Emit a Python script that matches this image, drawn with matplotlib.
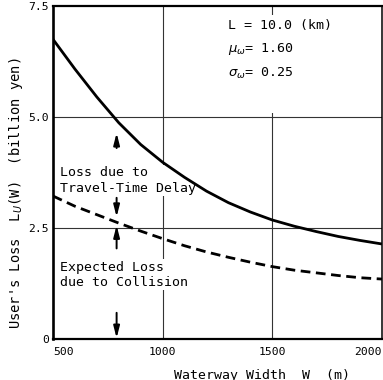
import matplotlib
matplotlib.use("Agg")
import matplotlib.pyplot as plt
from matplotlib.patches import Rectangle

# ---- data ----
width_m = [500, 600, 700, 800, 900, 1000, 1100, 1200, 1300, 1400, 1500,
           1600, 1700, 1800, 1900, 2000]
total_loss = [6.75, 6.08, 5.45, 4.87, 4.38, 3.98, 3.64, 3.33, 3.07, 2.86, 2.68,
              2.54, 2.42, 2.31, 2.22, 2.14]
collision_loss = [3.22, 2.99, 2.80, 2.61, 2.43, 2.26, 2.10, 1.96, 1.84, 1.73, 1.63,
                  1.55, 1.49, 1.43, 1.38, 1.35]

x_ticks = [500, 1000, 1500, 2000]
x_tick_labels = ["500", "1000", "1500", "2000"]
y_ticks = [0, 2.5, 5.0, 7.5]
y_tick_labels = ["0", "2.5", "5.0", "7.5"]

arrow_w = 790
# (tail, head) values for the arrows at W = 790
arrows = [(4.30, 4.64), (3.18, 2.75), (2.04, 2.56), (0.59, 0.02)]

MONO = "DejaVu Sans Mono"
plt.rcParams["font.family"] = [MONO, "DejaVu Sans"]

fig = plt.figure(figsize=(3.83, 3.80), dpi=100)
ax = fig.add_axes([53 / 383, 1 - 339 / 380, (382 - 53) / 383, (339 - 6) / 380])

ax.set_xlim(500, 2000)
ax.set_ylim(0, 7.5)

# grid
for xv in [1000, 1500]:
    ax.axvline(xv, color="#333333", lw=0.8, zorder=0.5)
for yv in [2.5, 5.0]:
    ax.axhline(yv, color="#333333", lw=0.8, zorder=0.5)

ax.plot(width_m, total_loss, color="black", lw=2.0, zorder=3,
        solid_capstyle="butt", solid_joinstyle="round")
ax.plot(width_m, collision_loss, color="black", lw=2.0, zorder=3,
        dashes=(3.5, 2.0))

for tail, head in arrows:
    ax.annotate("", xy=(arrow_w, head), xytext=(arrow_w, tail),
                arrowprops=dict(arrowstyle="-|>,head_length=0.7,head_width=0.18",
                                color="black", lw=1.4, shrinkA=0, shrinkB=0,
                                mutation_scale=10),
                zorder=4)

# spines
ax.spines["left"].set_linewidth(1.9)
ax.spines["top"].set_linewidth(1.6)
ax.spines["bottom"].set_linewidth(1.6)
ax.spines["right"].set_linewidth(1.1)

ax.set_xticks(x_ticks)
ax.set_xticklabels(x_tick_labels)
ax.set_yticks(y_ticks)
ax.set_yticklabels(y_tick_labels)
ax.tick_params(axis="both", length=0, labelsize=8.2)
ax.tick_params(axis="x", pad=6)
ax.tick_params(axis="y", pad=3)
xl = ax.get_xticklabels()
xl[0].set_ha("left")
xl[-1].set_ha("right")

# white area behind the parameter block
ax.add_patch(Rectangle((1290, 5.1), 440, 2.2, facecolor="white",
                       edgecolor="none", zorder=1))

box = dict(facecolor="white", edgecolor="none", pad=1.0)
fs = 9.5
ax.text(1298, 7.07, "L = 10.0 (km)", fontsize=fs, va="center", ha="left",
        zorder=1.5)
ax.text(1298, 6.53, r"$\mu_\omega$= 1.60", fontsize=fs, va="center", ha="left",
        zorder=1.5)
ax.text(1298, 5.97, r"$\sigma_\omega$= 0.25", fontsize=fs, va="center", ha="left",
        zorder=1.5)

ax.text(532, 3.57, "Loss due to\nTravel-Time Delay", fontsize=fs, va="center",
        ha="left", linespacing=1.25, bbox=box, zorder=1)
ax.text(532, 1.45, "Expected Loss\ndue to Collision", fontsize=fs, va="center",
        ha="left", linespacing=1.2, bbox=box, zorder=1)

fig.text(262 / 383, 1 - 375 / 380, "Waterway Width  W  (m)", fontsize=fs,
         ha="center", va="center")
fig.text(16 / 383, 1 - 193 / 380, r"User's Loss  L$_U$(W)  (billion yen)",
         fontsize=9.9, ha="center", va="center", rotation=90)

fig.savefig("out.png", dpi=100)
